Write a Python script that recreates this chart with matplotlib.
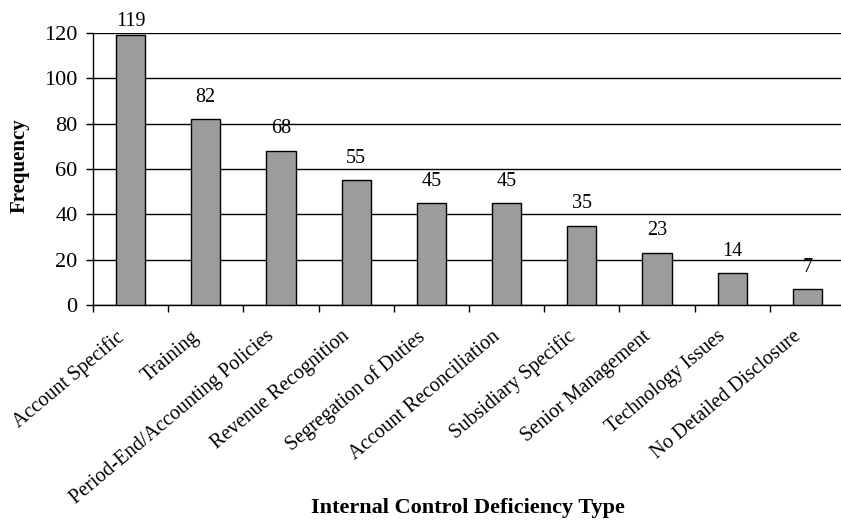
import matplotlib
matplotlib.use("Agg")
import matplotlib.pyplot as plt
import matplotlib.transforms as mtransforms
import numpy as np

categories = [
    "Account Specific",
    "Training",
    "Period-End/Accounting Policies",
    "Revenue Recognition",
    "Segregation of Duties",
    "Account Reconciliation",
    "Subsidiary Specific",
    "Senior Management",
    "Technology Issues",
    "No Detailed Disclosure",
]
frequency = [119, 82, 68, 55, 45, 45, 35, 23, 14, 7]
y_ticks = [0, 20, 40, 60, 80, 100, 120]

plt.rcParams["font.family"] = ["Liberation Serif", "DejaVu Serif"]

fig = plt.figure(figsize=(8.41, 5.21), dpi=100)
ax = fig.add_axes([93 / 841, 216 / 521, 752 / 841, 272 / 521])

x = np.arange(len(categories))
ax.bar(x, frequency, width=0.39, color="#9c9c9e", edgecolor="black",
       linewidth=1.0, zorder=3)

# value labels sit just above each bar, kept inside the figure at the top
for xi, v in zip(x, frequency):
    ax.text(xi, min(v + 5.5, 121), str(v), ha="center", va="bottom",
            fontsize=14.5, clip_on=False)

ax.set_xlim(-0.5, len(categories) - 0.5)
ax.set_ylim(0, 120)
ax.set_yticks(y_ticks)
ax.yaxis.grid(True, color="black", linewidth=1.0, zorder=0)
ax.set_axisbelow(True)

# category boundary ticks on x; slanted category names below each bar
ax.set_xticks(np.arange(len(categories) + 1) - 0.5)
ax.set_xticklabels([])
label_trans = ax.get_xaxis_transform() + mtransforms.ScaledTranslation(
    -0.15, -0.22, fig.dpi_scale_trans)
for xi, name in zip(x, categories):
    ax.text(xi, 0, name, transform=label_trans, rotation=40,
            rotation_mode="anchor", ha="right", va="top", fontsize=14.5,
            clip_on=False)

ax.tick_params(axis="x", which="major", direction="out", length=5, width=1)
ax.tick_params(axis="y", direction="out", length=5, width=1, labelsize=16, pad=6)

for s in ["top", "right"]:
    ax.spines[s].set_visible(False)
for s in ["left", "bottom"]:
    ax.spines[s].set_linewidth(1.0)

ax.set_ylabel("Frequency", fontsize=15, fontweight="bold")
ax.yaxis.set_label_coords(-63 / 752, 0.511)
fig.text(468 / 841, 1 - 508 / 521, "Internal Control Deficiency Type",
         ha="center", va="center", fontsize=16, fontweight="bold")

fig.savefig("out.png", dpi=100)
